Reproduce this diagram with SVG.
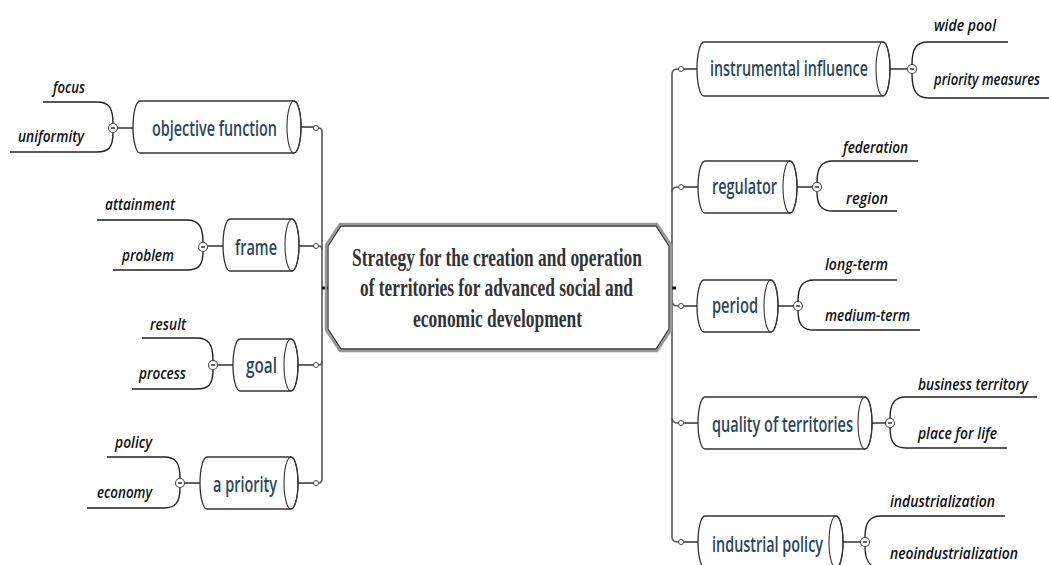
<svg xmlns="http://www.w3.org/2000/svg" width="1049" height="565" viewBox="0 0 1049 565">
<style>
  .cyl{fill:#fff;stroke:#333;stroke-width:1.3}
  .cap{fill:none;stroke:#333;stroke-width:1.1}
  .ln{fill:none;stroke:#222;stroke-width:1.4}
  .trunk{fill:none;stroke:#555;stroke-width:1.6}
  .dot{fill:#fff;stroke:#444;stroke-width:1}
  .mc{fill:#fff;stroke:#444;stroke-width:1.1}
  .leaf{font-family:"Open Sans","Noto Sans",sans-serif;font-style:italic;font-weight:600;font-size:17px;fill:#111}
  .nt{font-family:"Open Sans","Noto Sans",sans-serif;font-weight:600;font-size:22px;fill:#27485a}
  .ct{font-family:"Liberation Serif","Times New Roman",serif;font-weight:bold;font-size:25px;fill:#333}
</style>
<rect width="1049" height="565" fill="#fff"/>

<g id="connectors">
  <path class="trunk" d="M318.5,128 Q322,128 322,132 V479 Q322,483 318.5,483"/>
  <path class="trunk" d="M318.5,246 Q322,246 322,250"/>
  <path class="trunk" d="M318.5,365 Q322,365 322,361"/>
  <path d="M322,288 H328" stroke="#111" stroke-width="3"/>
  <path class="trunk" d="M678.5,69 Q672,69 672,74 V537 Q672,542 678.5,542"/>
  <path class="trunk" d="M678.5,187 Q672,187 672,192"/>
  <path class="trunk" d="M678.5,306 Q672,306 672,301"/>
  <path class="trunk" d="M678.5,423 Q672,423 672,418"/>
  <path d="M670,288 H676" stroke="#111" stroke-width="3"/>
  <g class="ln">
    <path d="M301,127 H313.5"/>
    <path d="M299,246 H313.5"/>
    <path d="M298,365 H313.5"/>
    <path d="M298,483 H313.5"/>
    <path d="M683.5,69 H697"/>
    <path d="M683.5,187 H698"/>
    <path d="M683.5,306 H697"/>
    <path d="M683.5,423 H698"/>
    <path d="M683.5,542 H698"/>
  </g>
  <circle class="dot" cx="316" cy="128" r="2.5"/>
  <circle class="dot" cx="316" cy="246" r="2.5"/>
  <circle class="dot" cx="316" cy="365" r="2.5"/>
  <circle class="dot" cx="316" cy="483" r="2.5"/>
  <circle class="dot" cx="681" cy="69" r="2.5"/>
  <circle class="dot" cx="681" cy="187" r="2.5"/>
  <circle class="dot" cx="681" cy="306" r="2.5"/>
  <circle class="dot" cx="681" cy="423" r="2.5"/>
  <circle class="dot" cx="681" cy="542" r="2.5"/>
</g>

<g id="center">
  <polygon points="340,224 657,224 671,245 671,330 657,351 340,351 326,330 326,245" fill="none" stroke="#999" stroke-width="2.5"/>
  <polygon points="341,226 656,226 669,246 669,329 656,349 341,349 328,329 328,246" fill="#fff" stroke="#333" stroke-width="1.3"/>
  <text class="ct" x="352" y="266" textLength="290" lengthAdjust="spacingAndGlyphs">Strategy for the creation and operation</text>
  <text class="ct" x="360" y="296" textLength="273" lengthAdjust="spacingAndGlyphs">of territories for advanced social and</text>
  <text class="ct" x="413" y="327" textLength="169" lengthAdjust="spacingAndGlyphs">economic development</text>
</g>

<g id="n-objective">
  <path class="cyl" d="M140,101 H294 A7 26 0 0 1 294,153 H140 A7 26 0 0 1 140,101 Z"/>
  <ellipse class="cap" cx="294" cy="127" rx="7" ry="26"/>
  <text class="nt" x="152" y="136" textLength="125" lengthAdjust="spacingAndGlyphs">objective function</text>
  <path class="ln" d="M117.5,128 H133"/>
  <path class="ln" d="M113,123.5 C113,108 109,102 97,102 H43"/>
  <path class="ln" d="M113,132.5 C113,147 109,152 97,152 H10"/>
  <circle class="mc" cx="113" cy="128" r="4.5"/><path class="ln" d="M111,128 H115" stroke-width="1"/>
  <text class="leaf" x="53" y="93" textLength="32" lengthAdjust="spacingAndGlyphs">focus</text>
  <text class="leaf" x="18" y="142" textLength="66" lengthAdjust="spacingAndGlyphs">uniformity</text>
</g>

<g id="n-frame">
  <path class="cyl" d="M230,219 H292 A7 26 0 0 1 292,271 H230 A7 26 0 0 1 230,219 Z"/>
  <ellipse class="cap" cx="292" cy="245" rx="7" ry="26"/>
  <text class="nt" x="235" y="255" textLength="42" lengthAdjust="spacingAndGlyphs">frame</text>
  <path class="ln" d="M207.5,246 H223"/>
  <path class="ln" d="M203,242.5 C203,227 199,220 187,220 H97"/>
  <path class="ln" d="M203,251.5 C203,265 199,270 187,270 H113"/>
  <circle class="mc" cx="203" cy="247" r="4.5"/><path class="ln" d="M201,247 H205" stroke-width="1"/>
  <text class="leaf" x="105" y="210" textLength="70" lengthAdjust="spacingAndGlyphs">attainment</text>
  <text class="leaf" x="122" y="261" textLength="52" lengthAdjust="spacingAndGlyphs">problem</text>
</g>

<g id="n-goal">
  <path class="cyl" d="M240,339 H291 A7 26 0 0 1 291,391 H240 A7 26 0 0 1 240,339 Z"/>
  <ellipse class="cap" cx="291" cy="365" rx="7" ry="26"/>
  <text class="nt" x="246" y="373" textLength="31" lengthAdjust="spacingAndGlyphs">goal</text>
  <path class="ln" d="M217.5,365 H233"/>
  <path class="ln" d="M213,360.5 C213,345 209,338 197,338 H142"/>
  <path class="ln" d="M213,369.5 C213,384 209,389 197,389 H132"/>
  <circle class="mc" cx="213" cy="365" r="4.5"/><path class="ln" d="M211,365 H215" stroke-width="1"/>
  <text class="leaf" x="150" y="330" textLength="36" lengthAdjust="spacingAndGlyphs">result</text>
  <text class="leaf" x="139" y="379" textLength="47" lengthAdjust="spacingAndGlyphs">process</text>
</g>

<g id="n-priority">
  <path class="cyl" d="M207,457 H291 A7 26 0 0 1 291,509 H207 A7 26 0 0 1 207,457 Z"/>
  <ellipse class="cap" cx="291" cy="483" rx="7" ry="26"/>
  <text class="nt" x="213" y="492" textLength="64" lengthAdjust="spacingAndGlyphs">a priority</text>
  <path class="ln" d="M184.5,483 H200"/>
  <path class="ln" d="M180,478.5 C180,463 176,457 164,457 H107"/>
  <path class="ln" d="M180,487.5 C180,502 176,508 164,508 H87"/>
  <circle class="mc" cx="180" cy="483" r="4.5"/><path class="ln" d="M178,483 H182" stroke-width="1"/>
  <text class="leaf" x="115" y="448" textLength="37" lengthAdjust="spacingAndGlyphs">policy</text>
  <text class="leaf" x="97" y="498" textLength="55" lengthAdjust="spacingAndGlyphs">economy</text>
</g>

<g id="n-instrumental">
  <path class="cyl" d="M704,42 H883 A7 27 0 0 1 883,96 H704 A7 27 0 0 1 704,42 Z"/>
  <ellipse class="cap" cx="883" cy="69" rx="7" ry="27"/>
  <text class="nt" x="710" y="76" textLength="158" lengthAdjust="spacingAndGlyphs">instrumental influence</text>
  <path class="ln" d="M890,69 H907.5"/>
  <path class="ln" d="M912,64.5 C912,49 916,42 928,42 H1008"/>
  <path class="ln" d="M912,73.5 C912,90 916,98 928,98 H1049"/>
  <circle class="mc" cx="912" cy="69" r="4.5"/><path class="ln" d="M910,69 H914" stroke-width="1"/>
  <text class="leaf" x="934" y="31" textLength="62" lengthAdjust="spacingAndGlyphs">wide pool</text>
  <text class="leaf" x="934" y="85" textLength="106" lengthAdjust="spacingAndGlyphs">priority measures</text>
</g>

<g id="n-regulator">
  <path class="cyl" d="M705,161 H790 A7 26 0 0 1 790,213 H705 A7 26 0 0 1 705,161 Z"/>
  <ellipse class="cap" cx="790" cy="187" rx="7" ry="26"/>
  <text class="nt" x="712" y="194" textLength="65" lengthAdjust="spacingAndGlyphs">regulator</text>
  <path class="ln" d="M797,187 H812.5"/>
  <path class="ln" d="M817,182.5 C817,168 821,161 833,161 H918"/>
  <path class="ln" d="M817,191.5 C817,205 821,211 833,211 H897"/>
  <circle class="mc" cx="817" cy="187" r="4.5"/><path class="ln" d="M815,187 H819" stroke-width="1"/>
  <text class="leaf" x="843" y="153" textLength="65" lengthAdjust="spacingAndGlyphs">federation</text>
  <text class="leaf" x="846" y="204" textLength="42" lengthAdjust="spacingAndGlyphs">region</text>
</g>

<g id="n-period">
  <path class="cyl" d="M704,280 H771 A7 26 0 0 1 771,332 H704 A7 26 0 0 1 704,280 Z"/>
  <ellipse class="cap" cx="771" cy="306" rx="7" ry="26"/>
  <text class="nt" x="712" y="313" textLength="46" lengthAdjust="spacingAndGlyphs">period</text>
  <path class="ln" d="M778,306 H793.5"/>
  <path class="ln" d="M798,301.5 C798,287 802,280 814,280 H897"/>
  <path class="ln" d="M798,310.5 C798,324 802,330 814,330 H920"/>
  <circle class="mc" cx="798" cy="306" r="4.5"/><path class="ln" d="M796,306 H800" stroke-width="1"/>
  <text class="leaf" x="825" y="270" textLength="63" lengthAdjust="spacingAndGlyphs">long-term</text>
  <text class="leaf" x="825" y="321" textLength="85" lengthAdjust="spacingAndGlyphs">medium-term</text>
</g>

<g id="n-quality">
  <path class="cyl" d="M705,397 H865 A7 26 0 0 1 865,449 H705 A7 26 0 0 1 705,397 Z"/>
  <ellipse class="cap" cx="865" cy="423" rx="7" ry="26"/>
  <text class="nt" x="712" y="432" textLength="141" lengthAdjust="spacingAndGlyphs">quality of territories</text>
  <path class="ln" d="M872,423 H885.5"/>
  <path class="ln" d="M890,418.5 C890,404 894,397 906,397 H1037"/>
  <path class="ln" d="M890,427.5 C890,442 894,448 906,448 H1007"/>
  <circle class="mc" cx="890" cy="423" r="4.5"/><path class="ln" d="M888,423 H892" stroke-width="1"/>
  <text class="leaf" x="918" y="390" textLength="110" lengthAdjust="spacingAndGlyphs">business territory</text>
  <text class="leaf" x="918" y="439" textLength="79" lengthAdjust="spacingAndGlyphs">place for life</text>
</g>

<g id="n-industrial">
  <path class="cyl" d="M705,516 H836 A7 26 0 0 1 836,568 H705 A7 26 0 0 1 705,516 Z"/>
  <ellipse class="cap" cx="836" cy="542" rx="7" ry="26"/>
  <text class="nt" x="712" y="552" textLength="111" lengthAdjust="spacingAndGlyphs">industrial policy</text>
  <path class="ln" d="M843,542 H860.5"/>
  <path class="ln" d="M865,537.5 C865,523 869,516 881,516 H1005"/>
  <path class="ln" d="M865,546.5 C865,560 869,568 881,568 H1049"/>
  <circle class="mc" cx="865" cy="542" r="4.5"/><path class="ln" d="M863,542 H867" stroke-width="1"/>
  <text class="leaf" x="890" y="507" textLength="105" lengthAdjust="spacingAndGlyphs">industrialization</text>
  <text class="leaf" x="890" y="559" textLength="128" lengthAdjust="spacingAndGlyphs">neoindustrialization</text>
</g>
</svg>
